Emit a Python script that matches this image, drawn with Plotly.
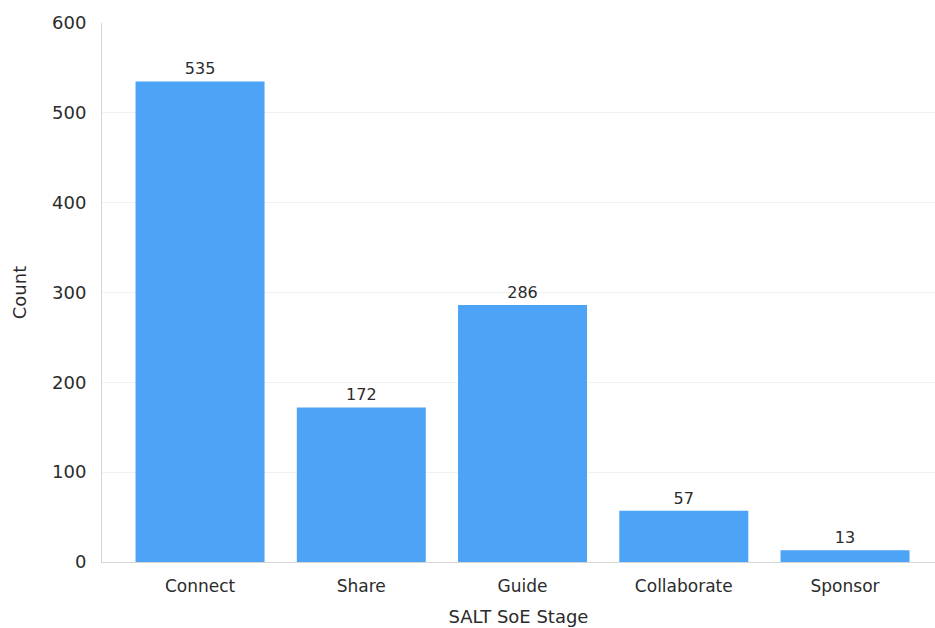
import plotly.graph_objects as go

# SALT SoE stage counts
stages = ["Connect", "Share", "Guide", "Collaborate", "Sponsor"]
counts = [535, 172, 286, 57, 13]
y_ticks = [0, 100, 200, 300, 400, 500, 600]

bar_color = "#4DA3F6"
text_color = "#2b2b2b"
font_family = "DejaVu Sans, Verdana, sans-serif"

fig = go.Figure(
    go.Bar(
        x=list(range(len(stages))),
        y=counts,
        marker=dict(color=bar_color, line=dict(width=0)),
        text=[str(v) for v in counts],
        textposition="outside",
        textfont=dict(size=16, color=text_color, family=font_family),
        cliponaxis=False,
    )
)

fig.update_layout(
    width=935,
    height=628,
    margin=dict(l=102, r=0, t=23, b=66),
    paper_bgcolor="white",
    plot_bgcolor="white",
    bargap=0.2,
    showlegend=False,
    font=dict(family=font_family, size=17, color=text_color),
    xaxis=dict(
        tickmode="array",
        tickvals=list(range(len(stages))),
        ticktext=stages,
        range=[-0.608, 4.558],
        showgrid=False,
        showline=True,
        linecolor="#d6d6d6",
        linewidth=1,
        ticks="outside",
        ticklen=9,
        tickcolor="rgba(0,0,0,0)",
        tickfont=dict(size=17, color=text_color),
        title=dict(text="SALT SoE Stage", font=dict(size=18, color=text_color), standoff=14),
        zeroline=False,
        automargin=False,
    ),
    yaxis=dict(
        range=[0, 600],
        tickmode="array",
        tickvals=y_ticks,
        ticktext=[str(t) for t in y_ticks],
        showgrid=True,
        gridcolor="#f1f1f1",
        gridwidth=1,
        showline=True,
        linecolor="#d6d6d6",
        linewidth=1,
        zeroline=False,
        ticks="outside",
        ticklen=11,
        tickcolor="rgba(0,0,0,0)",
        tickfont=dict(size=18, color=text_color),
        title=dict(text="Count", font=dict(size=18, color=text_color), standoff=20),
        automargin=False,
    ),
)

fig.write_html("out.html")
